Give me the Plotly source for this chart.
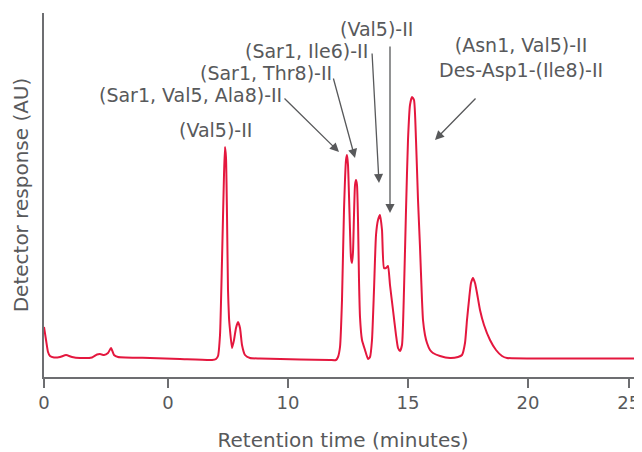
import plotly.graph_objects as go

# chromatogram: retention time (min) vs detector response (AU)
time_min = [
    -0.167, -0.083, 0.0, 0.083, 0.25, 0.5, 0.75, 1.0, 1.333, 1.833,
    2.042, 2.167, 2.333, 2.5, 2.625, 2.75, 2.917, 4.25, 5.5, 6.833,
    7.0, 7.083, 7.167, 7.25, 7.333, 7.375, 7.417, 7.458, 7.5, 7.542,
    7.583, 7.667, 7.75, 7.833, 7.917, 8.0, 8.083, 8.208, 8.417, 8.833,
    10.5, 11.75, 12.0, 12.083, 12.167, 12.25, 12.333, 12.417, 12.458, 12.5,
    12.583, 12.625, 12.667, 12.708, 12.75, 12.792, 12.833, 12.875, 12.917, 12.958,
    13.0, 13.083, 13.208, 13.333, 13.417, 13.5, 13.583, 13.667, 13.75, 13.833,
    13.917, 14.0, 14.083, 14.167, 14.25, 14.375, 14.5, 14.583, 14.667, 14.75,
    14.833, 14.917, 15.0, 15.083, 15.167, 15.25, 15.333, 15.417, 15.5, 15.583,
    15.625, 15.708, 15.792, 15.917, 16.042, 16.333, 16.75, 17.083, 17.25, 17.375,
    17.458, 17.542, 17.625, 17.708, 17.792, 17.875, 18.0, 18.167, 18.417, 18.667,
    18.917, 19.125, 21.333, 24.75,
]
response_au = [
    50, 37, 25, 21, 19.5, 20, 22, 20, 19, 19.5,
    22.5, 23, 22, 24, 29, 22, 20, 19, 18, 17,
    18, 21, 42, 117, 202, 230, 219, 162, 87, 59,
    47, 29, 37, 49, 55, 49, 32, 22, 19, 18.5,
    17.5, 17, 17, 20, 30, 77, 167, 217, 222, 212,
    147, 119, 114, 125, 162, 192, 197, 192, 157, 97,
    60, 37, 27, 18, 20, 37, 87, 142, 157, 162,
    147, 109, 109, 111, 92, 67, 42, 29, 26, 32,
    87, 167, 237, 272, 280, 277, 237, 177, 130, 77,
    57, 42, 34, 27, 24, 21, 19, 20, 22, 34,
    57, 77, 94, 99, 94, 84, 67, 52, 37, 27,
    21, 19, 18.5, 18.5,
]

tick_vals = [-0.167, 5, 10, 15, 20, 24.2]
tick_text = ["0", "0", "10", "15", "20", "25"]

peak_labels = [
    "(Val5)-II",
    "(Sar1, Val5, Ala8)-II",
    "(Sar1, Thr8)-II",
    "(Sar1, Ile6)-II",
    "(Val5)-II",
    "(Asn1, Val5)-II<br>Des-Asp1-(Ile8)-II",
]
label_x = [6.958, 5.917, 9.083, 10.75, 13.667, 19.708]
label_y = [247, 282, 304, 326, 348, 319.5]

# arrows: tip (x, y) and tail (ax, ay)
arrow_x = [12.125, 12.792, 13.792, 14.25, 16.125]
arrow_y = [225, 219, 194, 164, 237]
arrow_ax = [9.792, 11.875, 13.5, 14.25, 17.875]
arrow_ay = [280, 300, 325, 332, 280]

red = "#e4173e"
grey = "#58595b"
axis_grey = "#6d6e71"
font = "DejaVu Sans"

fig = go.Figure(
    go.Scatter(
        x=time_min,
        y=response_au,
        mode="lines",
        line=dict(color=red, width=2, shape="spline", smoothing=0.5),
        hoverinfo="skip",
    )
)

annotations = []
for txt, x, y in zip(peak_labels, label_x, label_y):
    annotations.append(dict(
        x=x, y=y, xref="x", yref="y", text=txt, showarrow=False,
        font=dict(family=font, size=19, color=grey), align="center",
    ))
for x, y, ax, ay in zip(arrow_x, arrow_y, arrow_ax, arrow_ay):
    annotations.append(dict(
        x=x, y=y, ax=ax, ay=ay, xref="x", yref="y", axref="x", ayref="y",
        text="", showarrow=True, arrowhead=2, arrowsize=1.4, arrowwidth=1.3,
        arrowcolor=grey, standoff=0,
    ))

# page body has an 8px margin, so the figure is a bit smaller than the window
fig.update_layout(
    width=634,
    height=444,
    margin=dict(l=36, r=0, t=5, b=75),
    plot_bgcolor="white",
    paper_bgcolor="white",
    showlegend=False,
    font=dict(family=font, color=grey),
    annotations=annotations,
    xaxis=dict(
        range=[-0.167, 24.75],
        tickvals=tick_vals,
        ticktext=tick_text,
        showline=True, linecolor=axis_grey, linewidth=1.5,
        ticks="outside", ticklen=9, tickwidth=1.5, tickcolor=axis_grey,
        showgrid=False, zeroline=False,
        tickfont=dict(size=18, color=grey),
        title=dict(text="Retention time (minutes)", font=dict(size=20, color=grey), standoff=21),
        automargin=False,
    ),
    yaxis=dict(
        range=[0, 364],
        showline=True, linecolor=axis_grey, linewidth=1.5,
        showticklabels=False, ticks="",
        showgrid=False, zeroline=False,
        title=dict(text="Detector response (AU)", font=dict(size=20, color=grey), standoff=8),
        automargin=False,
    ),
)

fig.write_html("out.html")
